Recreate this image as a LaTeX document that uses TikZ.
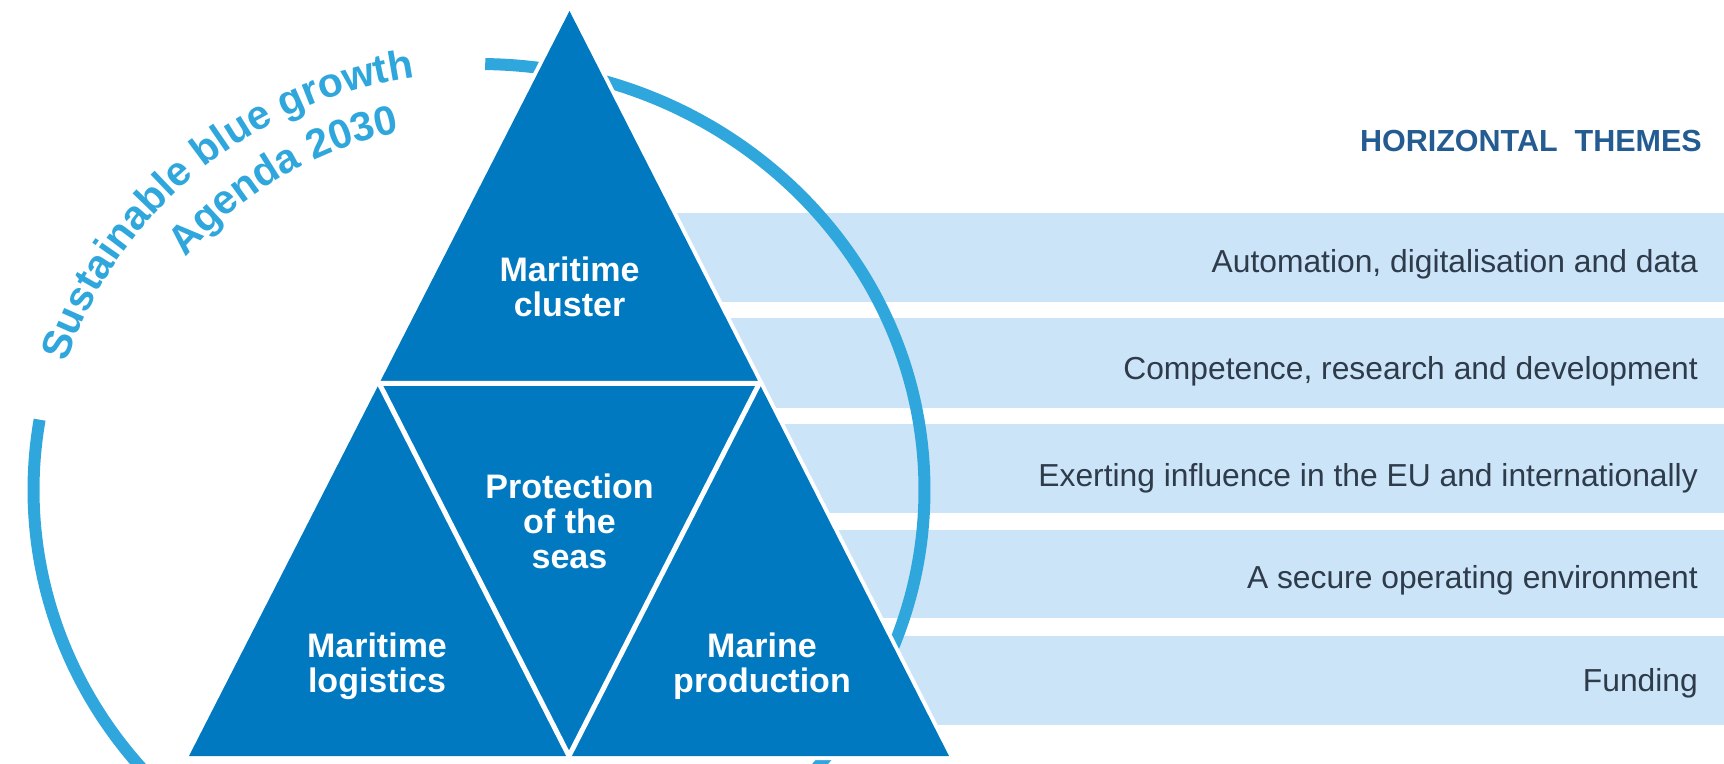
\documentclass[tikz,border=0pt]{standalone}
\usepackage{fontspec}
\setmainfont{Liberation Sans}
\usetikzlibrary{calc, decorations.text}

\definecolor{triblue}{HTML}{0079C1}
\definecolor{ringblue}{HTML}{2FA7DC}
\definecolor{barblue}{HTML}{CCE4F7}
\definecolor{bartext}{HTML}{2D3B4A}
\definecolor{headblue}{HTML}{245C92}

\begin{document}
\begin{tikzpicture}[x=1pt, y=1pt]
		\tikzstyle{Label} = [text=white, font=\fontsize{34}{35}\selectfont\bfseries, align=center]
		\tikzstyle{Theme} = [anchor=base east, inner sep=0, text=bartext, font=\fontsize{31.8}{32}\selectfont]
		\tikzstyle{Bar} = [fill=barblue]
		\tikzstyle{ring} = [draw=ringblue, line width=12]
		
		\useasboundingbox (0,0) rectangle (1724,763);
		\clip (0,0) rectangle (1724,763);
		
		% horizontal themes
		\fill [Bar] (600,461) rectangle (1724,550);
		\fill [Bar] (600,355) rectangle (1724,445);
		\fill [Bar] (600,250) rectangle (1724,339);
		\fill [Bar] (600,145) rectangle (1724,233);
		\fill [Bar] (600,38) rectangle (1724,127);
		\node (head) [anchor=base east, inner sep=0, text=headblue, font=\fontsize{30.5}{30.5}\selectfont\bfseries] at (1702,611) {HORIZONTAL\hspace{17pt}THEMES};
		\node (auto) [Theme] at (1698,490) {Automation, digitalisation and data};
		\node (comp) [Theme] at (1698,383) {Competence, research and development};
		\node (infl) [Theme] at (1698,276) {Exerting influence in the EU and internationally};
		\node (secu) [Theme] at (1698,174) {A secure operating environment};
		\node (fund) [Theme] at (1698,71) {Funding};
		
		% ring and its title
		\coordinate (C) at (479,273);
		\draw [ring] ($(C)+(89.2:445.5 and 426)$) arc [start angle=89.2, end angle=-189.5, x radius=445.5, y radius=426];
		\path [decorate, decoration={text along path, text align=center,
			text={|\fontsize{41}{41}\selectfont\bfseries\color{ringblue}|Sustainable blue growth}}]
		($(C)+(169:433 and 417)$) arc [start angle=169, end angle=92, x radius=433, y radius=417];
		\path [decorate, decoration={text along path, text align=center,
			text={|\fontsize{41}{41}\selectfont\bfseries\color{ringblue}|Agenda 2030}}]
		($(C)+(154:380 and 366)$) arc [start angle=154, end angle=89, x radius=380, y radius=366];
		
		% triangle
		\coordinate (A) at (569.5,752);
		\coordinate (L) at (189,7);
		\coordinate (R) at (949,7);
		\coordinate (AL) at ($(A)!0.5!(L)$);
		\coordinate (AR) at ($(A)!0.5!(R)$);
		\coordinate (LR) at ($(L)!0.5!(R)$);
		\draw [white, line width=8] (A) -- (L) -- (R) -- cycle;
		\fill [triblue] (A) -- (L) -- (R) -- cycle;
		\draw [white, line width=5] (AL) -- (AR) -- (LR) -- cycle;
		
		\node (cluster) [Label] at (569.5,476) {Maritime\\cluster};
		\node (protect) [Label] at (569.5,242) {Protection\\of the\\seas};
		\node (logist) [Label] at (377,97) {Maritime\\logistics};
		\node (product) [Label] at (762,97) {Marine\\production};
\end{tikzpicture}
\end{document}
